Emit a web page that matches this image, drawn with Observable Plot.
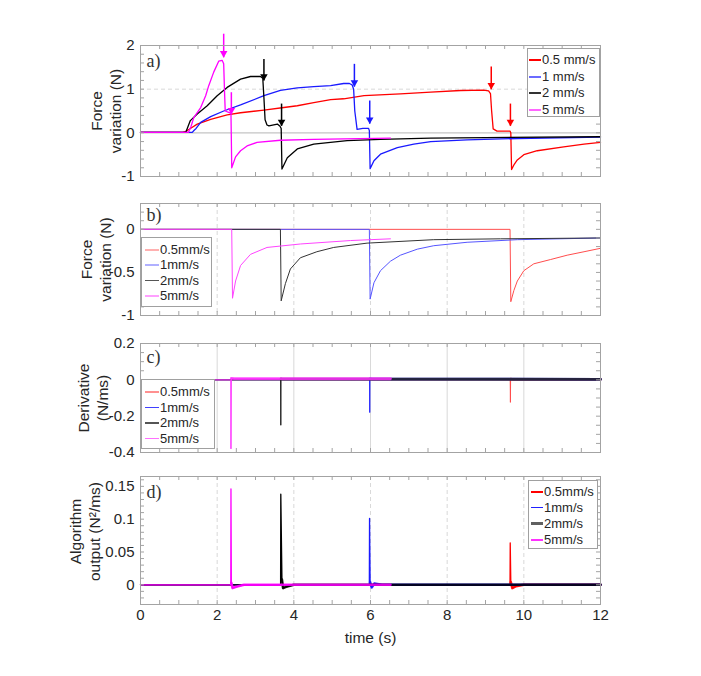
<!DOCTYPE html>
<html><head><meta charset="utf-8">
<script src="https://cdn.jsdelivr.net/npm/d3@7"></script>
<script src="https://cdn.jsdelivr.net/npm/@observablehq/plot@0.6"></script>
<style>
body{margin:0;background:#fff;}
#fig{position:relative;width:701px;height:676px;background:#fff;font-family:"Liberation Sans",Arial,sans-serif;color:#262626;}
.panel{position:absolute;left:0;}
.legend{position:absolute;box-sizing:border-box;border:1px solid #a0a0a0;background:#fff;}
</style></head><body><div id="fig"></div>
<script>
// ---------- data ----------
const speedsA = ["0.5 mm/s", "1 mm/s", "2 mm/s", "5 mm/s"];
const speedsB = ["0.5mm/s", "1mm/s", "2mm/s", "5mm/s"];

// Panel a) force variation (N) vs time (s)
const aRedT = [0, 1.1, 1.2, 1.3, 1.48, 1.83, 2.26, 2.61, 3.22, 3.74, 4.09, 4.52, 4.96, 5.3, 5.83, 6.78, 7.57, 8.35, 8.95, 9.08, 9.13, 9.16, 9.2, 9.3, 9.64, 9.66, 9.68, 9.75, 9.83, 10.0, 10.35, 11.04, 11.57, 12];
const aRedV = [0.01, 0.01, 0.04, 0.1, 0.2, 0.31, 0.41, 0.46, 0.52, 0.58, 0.62, 0.69, 0.76, 0.78, 0.85, 0.89, 0.93, 0.97, 0.98, 0.96, 0.9, 0.5, 0.09, 0.04, 0.04, 0.0, -0.84, -0.72, -0.62, -0.5, -0.41, -0.32, -0.26, -0.22];
const aBlueT = [0, 1.35, 1.4, 1.45, 1.57, 1.83, 2.17, 2.61, 3.22, 3.65, 4.09, 4.52, 4.96, 5.3, 5.45, 5.52, 5.56, 5.59, 5.65, 5.8, 5.95, 5.97, 5.99, 6.09, 6.26, 6.7, 7.13, 7.57, 8.52, 9.83, 12];
const aBlueV = [0.01, 0.01, 0.06, 0.1, 0.24, 0.37, 0.5, 0.64, 0.85, 0.97, 1.03, 1.06, 1.08, 1.13, 1.13, 1.1, 1.0, 0.5, 0.08, 0.1, 0.1, 0.05, -0.82, -0.64, -0.49, -0.34, -0.26, -0.2, -0.16, -0.13, -0.1];
const aBlackT = [0, 1.18, 1.22, 1.3, 1.48, 1.74, 2.0, 2.26, 2.61, 2.87, 3.13, 3.19, 3.22, 3.25, 3.3, 3.35, 3.57, 3.64, 3.67, 3.69, 3.83, 4.09, 4.52, 5.39, 6.26, 7.57, 9.0, 12];
const aBlackV = [0.01, 0.01, 0.1, 0.28, 0.43, 0.62, 0.85, 1.04, 1.23, 1.29, 1.29, 1.25, 0.8, 0.3, 0.18, 0.16, 0.2, 0.15, 0.1, -0.83, -0.57, -0.37, -0.26, -0.18, -0.15, -0.12, -0.11, -0.09];
const aMagT = [0, 1.25, 1.32, 1.39, 1.57, 1.7, 1.78, 1.91, 2.04, 2.13, 2.17, 2.19, 2.21, 2.3, 2.36, 2.38, 2.48, 2.61, 2.78, 3.04, 3.65, 4.52, 6.52];
const aMagV = [0.01, 0.01, 0.15, 0.35, 0.58, 0.85, 1.08, 1.39, 1.64, 1.66, 1.58, 1.0, 0.5, 0.47, 0.45, -0.8, -0.55, -0.41, -0.3, -0.22, -0.17, -0.15, -0.12];

// arrows in panel a (series index 0=red,1=blue,2=black,3=magenta)
const arrowSeries = [3, 3, 2, 2, 1, 1, 0, 0];
const arrowT = [2.17, 2.37, 3.22, 3.68, 5.58, 5.98, 9.15, 9.65];
const arrowFrom = [2.27, 0.93, 1.69, 0.67, 1.58, 0.74, 1.52, 0.67];
const arrowTo = [1.73, 0.43, 1.2, 0.16, 1.06, 0.21, 1.0, 0.16];

// Panel b) force variation after release (N)
const bRedT = [0, 9.64, 9.66, 9.74, 9.83, 10.0, 10.26, 10.7, 11.13, 11.57, 12];
const bRedV = [0, 0, -0.84, -0.71, -0.6, -0.48, -0.4, -0.35, -0.3, -0.26, -0.22];
const bBlueT = [0, 5.97, 5.99, 6.09, 6.26, 6.52, 6.78, 7.22, 7.65, 8.52, 9.83, 12];
const bBlueV = [0, 0, -0.81, -0.62, -0.48, -0.37, -0.3, -0.23, -0.19, -0.15, -0.12, -0.1];
const bBlackT = [0, 3.65, 3.67, 3.78, 3.91, 4.17, 4.6, 5.04, 5.91, 7.65, 9.39, 12];
const bBlackV = [0, 0, -0.83, -0.63, -0.46, -0.33, -0.26, -0.21, -0.16, -0.12, -0.11, -0.1];
const bMagT = [0, 2.38, 2.4, 2.48, 2.61, 2.87, 3.3, 4.17, 5.48, 6.52];
const bMagV = [0, 0, -0.8, -0.6, -0.42, -0.29, -0.21, -0.17, -0.13, -0.11];

// Panel c) derivative (N/ms)
const cRedT = [0, 9.645, 9.65, 9.655, 9.7, 12];
const cRedV = [0, 0, -0.124, 0.004, 0.003, 0.003];
const cBlueT = [0, 5.975, 5.98, 5.985, 6.05, 12];
const cBlueV = [0, 0, -0.18, 0.005, 0.004, 0.003];
const cBlackT = [0, 3.655, 3.66, 3.665, 3.7, 12];
const cBlackV = [0, 0, -0.25, 0.005, 0.004, 0.003];
const cMagT = [0, 2.355, 2.36, 2.37, 2.45, 6.52];
const cMagV = [0, 0, -0.38, 0.008, 0.007, 0.006];

// Panel d) algorithm output (N^2/ms)
const dRedT = [0, 9.64, 9.645, 9.66, 9.7, 9.8, 10.0, 12];
const dRedV = [0, 0, 0.064, 0.004, -0.005, -0.002, 0.0, 0.0];
const dBlueT = [0, 5.97, 5.975, 5.99, 6.03, 6.1, 6.3, 12];
const dBlueV = [0, 0, 0.101, 0.004, -0.004, 0.002, 0, 0];
const dBlackT = [0, 3.655, 3.66, 3.69, 3.72, 3.8, 4.0, 12];
const dBlackV = [0, 0, 0.138, 0.008, -0.005, -0.003, 0, 0];
const dMagT = [0, 2.355, 2.36, 2.37, 2.4, 2.5, 2.7, 6.52];
const dMagV = [0, 0, 0.146, 0.003, -0.005, -0.003, 0, 0];

const xTicks = [0, 2, 4, 6, 8, 10, 12];
const xGridVals = [2, 4, 6, 8, 10];

// ---------- helpers ----------
const W = 701, ML = 140, MR = 101;
const fig = document.getElementById("fig");
const frameColor = "#a3a3a3";
const pts = (T, V) => T.map((t, i) => ({t, v: V[i]}));
const xMinor = d3.range(0, 12.001, 0.5);

function panel(o) {
  const ph = o.height - o.mt - o.mb, pw = W - ML - MR;
  const yMinor = d3.range(o.domain[0], o.domain[1] + 1e-9, o.minorStep);
  const marks = [];
  if (o.xGrid) marks.push(Plot.ruleX(xGridVals, {x: d => d, stroke: "#cfcfcf", strokeWidth: 0.8, strokeDasharray: o.xDash}));
  if (o.yGrid) marks.push(Plot.ruleY(o.yGrid, {y: d => d, stroke: "#cfcfcf", strokeWidth: 0.8, strokeDasharray: "4,3"}));
  if (o.zeroLine) marks.push(Plot.ruleY([0], {stroke: "#c4c4c4", strokeWidth: 1.2}));
  marks.push(...o.marks);
  marks.push(
    Plot.tickX(xMinor, {x: d => d, insetTop: ph - 4, stroke: frameColor}),
    Plot.tickX(xMinor, {x: d => d, insetBottom: ph - 4, stroke: frameColor}),
    Plot.tickY(yMinor, {y: d => d, insetRight: pw - 4, stroke: frameColor}),
    Plot.tickY(yMinor, {y: d => d, insetLeft: pw - 4, stroke: frameColor}),
    Plot.frame({stroke: frameColor}),
    Plot.axisY({ticks: o.yTicks, tickSize: 0, tickPadding: 6, tickFormat: d => String(d), label: null, fill: "#262626", fontSize: 15}),
    Plot.text([o.label], {frameAnchor: "top-left", dx: 6, dy: o.labelDy, fontFamily: "Liberation Serif, Times New Roman, serif", fontSize: 18, fill: "#333", lineAnchor: "top"}),
    Plot.text([o.ylab], {frameAnchor: "left", rotate: -90, dx: o.ylabDx, dy: o.ylabDy || 0, fontSize: 15.5, lineHeight: 1.25, fill: "#262626", textAnchor: "middle", lineAnchor: "middle"})
  );
  if (o.xAxis) {
    marks.push(
      Plot.axisX({ticks: xTicks, tickSize: 0, tickPadding: 5, tickFormat: d => String(d), label: null, fill: "#262626", fontSize: 15}),
      Plot.text(["time (s)"], {frameAnchor: "bottom", dy: 34, fontSize: 15.5, fill: "#262626", lineAnchor: "middle"})
    );
  }
  const svg = Plot.plot({
    width: W, height: o.height,
    marginLeft: ML, marginRight: MR, marginTop: o.mt, marginBottom: o.mb,
    x: {domain: [0, 12], axis: o.xAxis ? undefined : null},
    y: {domain: o.domain},
    style: {fontFamily: "Liberation Sans, Arial, sans-serif", fontSize: "15px", background: "transparent", overflow: "visible"},
    marks
  });
  const wrap = document.createElement("div");
  wrap.className = "panel";
  wrap.style.top = o.top + "px";
  wrap.appendChild(svg);
  fig.appendChild(wrap);
}

function legend(box, rowsY, swX, swW, textX, colors, widths, labels) {
  const div = document.createElement("div");
  div.className = "legend";
  Object.assign(div.style, {left: box[0] + "px", top: box[1] + "px", width: box[2] + "px", height: box[3] + "px"});
  labels.forEach((lab, i) => {
    const sw = document.createElement("div");
    Object.assign(sw.style, {position: "absolute", left: (swX - box[0] - 1) + "px", top: (rowsY[i] - box[1] - 1 - widths[i] / 2) + "px", width: swW + "px", height: widths[i] + "px", background: colors[i]});
    const tx = document.createElement("div");
    Object.assign(tx.style, {position: "absolute", left: (textX - box[0] - 1) + "px", top: (rowsY[i] - box[1] - 1 - 8) + "px", lineHeight: "16px", fontSize: "13px", whiteSpace: "nowrap", color: "#262626"});
    tx.textContent = lab;
    div.append(sw, tx);
  });
  fig.appendChild(div);
}

// ---------- panel a ----------
const aColors = ["#ff0000", "#1a1aff", "#000000", "#ff00ff"];
const aSeries = [[aRedT, aRedV], [aBlueT, aBlueV], [aBlackT, aBlackV], [aMagT, aMagV]];
const arrowIdx = d3.range(arrowT.length);
panel({
  top: 0, height: 190, mt: 45, mb: 14, domain: [-1, 2], yTicks: [-1, 0, 1, 2], minorStep: 0.2,
  yGrid: [1], zeroLine: true, xGrid: false,
  label: "a)", labelDy: 9, ylab: "Force\nvariation (N)", ylabDx: -35,
  marks: [
    ...aSeries.map(([T, V], k) => Plot.line(pts(T, V), {x: "t", y: "v", stroke: aColors[k], strokeWidth: 1.3})),
    Plot.link(arrowIdx, {
      x1: i => arrowT[i], x2: i => arrowT[i], y1: i => arrowFrom[i], y2: i => arrowTo[i],
      stroke: i => aColors[arrowSeries[i]], strokeWidth: 1.5
    }),
    Plot.dot(arrowIdx, {
      x: i => arrowT[i], y: i => arrowTo[i], symbol: "triangle", rotate: 180, r: 2.8, dy: -4,
      fill: i => aColors[arrowSeries[i]], stroke: null
    })
  ]
});

// ---------- panel b ----------
const bColors = ["#ff4d4d", "#5555ff", "#333333", "#ff44ff"];
const bSeries = [[bRedT, bRedV], [bBlueT, bBlueV], [bBlackT, bBlackV], [bMagT, bMagV]];
panel({
  top: 190, height: 140, mt: 13, mb: 15, domain: [-1, 0.3], yTicks: [-1, -0.5, 0], minorStep: 0.1,
  xGrid: true, xDash: "4,3",
  label: "b)", labelDy: 5, ylab: "Force\nvariation (N)", ylabDx: -45,
  marks: bSeries.map(([T, V], k) => Plot.line(pts(T, V), {x: "t", y: "v", stroke: bColors[k], strokeWidth: 1}))
});

// ---------- panel c ----------
const cColors = ["#ff4d4d", "#2a2aff", "#222222", "#ff33ff"];
const cSeries = [[cRedT, cRedV], [cBlueT, cBlueV], [cBlackT, cBlackV], [cMagT, cMagV]];
panel({
  top: 330, height: 135, mt: 13, mb: 13, domain: [-0.4, 0.2], yTicks: [-0.4, -0.2, 0, 0.2], minorStep: 0.05,
  xGrid: true, xDash: null,
  label: "c)", labelDy: 7, ylab: "Derivative\n(N/ms)", ylabDx: -48,
  marks: [
    ...cSeries.map(([T, V], k) => Plot.line(pts(T, V), {x: "t", y: "v", stroke: cColors[k], strokeWidth: 1})),
    ...cSeries.map(([T, V], k) => Plot.line(pts(T, V).slice(3), {x: "t", y: "v", stroke: cColors[k], strokeWidth: 2.8, strokeOpacity: 0.85}))
  ]
});

// ---------- panel d ----------
const dColors = ["#ff0000", "#1a1aff", "#000000", "#ff00ff"];
const dSeries = [[dRedT, dRedV], [dBlueT, dBlueV], [dBlackT, dBlackV], [dMagT, dMagV]];
panel({
  top: 465, height: 211, mt: 11, mb: 72, domain: [-0.03, 0.165], yTicks: [0, 0.05, 0.1, 0.15], minorStep: 0.01,
  xGrid: true, xDash: "4,3",
  label: "d)", labelDy: 9, ylab: "Algorithm\noutput (N\u00b2/ms)", ylabDx: -56, ylabDy: -9,
  xAxis: true,
  marks: [
    ...dSeries.map(([T, V], k) => Plot.line(pts(T, V), {x: "t", y: "v", stroke: dColors[k], strokeWidth: 1.3})),
    ...dSeries.map(([T, V], k) => Plot.line(pts(T, V).slice(3), {x: "t", y: "v", stroke: dColors[k], strokeWidth: 2.6, strokeOpacity: 0.85}))
  ]
});

// ---------- legends ----------
legend([527, 48, 73, 69], [60, 76.5, 93, 109.5], 529, 12, 542, ["#ff0000", "#6b6bff", "#333333", "#ff66ff"], [1.5, 2, 1.5, 2], speedsA);
legend([141, 237, 71, 70], [250, 265, 280.5, 296], 145, 14, 160, ["#ffb0b0", "#b0b0ff", "#555555", "#ffa0ff"], [1.5, 1.5, 1.5, 1.5], speedsB);
legend([141, 379, 74, 70], [392, 407.5, 423, 438.5], 145, 14, 160, ["#ff9090", "#4040ff", "#555555", "#ff70ff"], [1.5, 1.5, 1.5, 1.5], speedsB);
legend([528, 480, 70, 69], [492, 507.5, 523.5, 540], 531, 12, 544, ["#ff0000", "#2020ff", "#606060", "#ff30ff"], [1.5, 1.5, 2.5, 1.5], speedsB);
</script></body></html>
